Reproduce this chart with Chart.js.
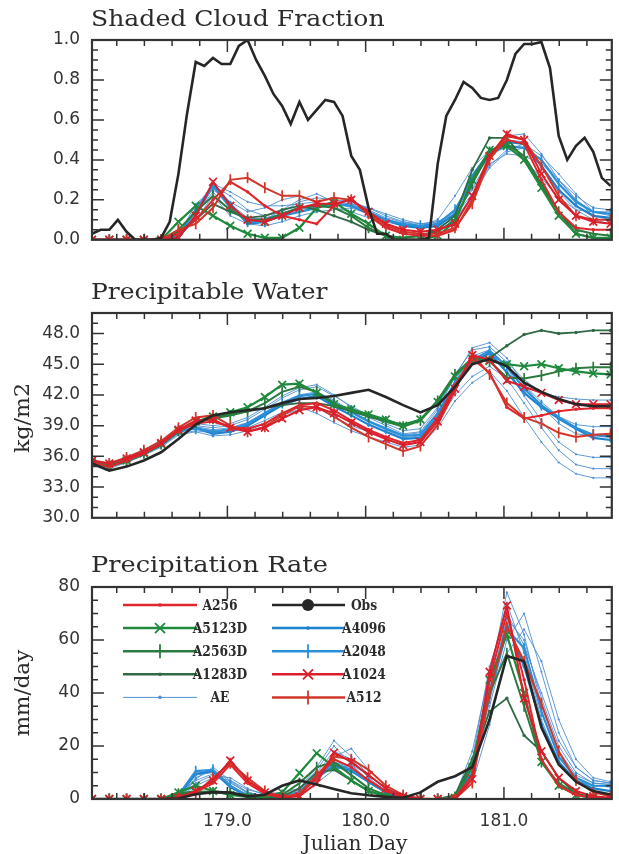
<!DOCTYPE html>
<html>
<head>
<meta charset="utf-8">
<script src="https://cdn.jsdelivr.net/npm/chart.js@4.4.1/dist/chart.umd.min.js"></script>
<style>
  body { margin: 0; background: #fff; }
  #page { position: relative; width: 619px; height: 854px; overflow: hidden; background: #fff; }
  canvas { position: absolute; left: 0; }
  .t, .v, .c { position: absolute; font-family: "DejaVu Serif", serif; color: #2b2b2b; white-space: nowrap; line-height: 1; }
  .t { font-size: 21px; transform-origin: 0 0; }
  .v, .c { font-size: 19px; }
</style>
</head>
<body>
<div id="page">
  <canvas id="c1" width="619" height="262" style="top:0px"></canvas>
  <canvas id="c2" width="619" height="270" style="top:270px"></canvas>
  <canvas id="c3" width="619" height="314" style="top:540px"></canvas>
  <div class="t" style="left:91px;top:7px" data-w="294">Shaded Cloud Fraction</div>
  <div class="t" style="left:91px;top:280px" data-w="237">Precipitable Water</div>
  <div class="t" style="left:91px;top:553px" data-w="237">Precipitation Rate</div>
  <div class="v" style="left:22px;top:418px" data-w="70">kg/m2</div>
  <div class="v" style="left:22px;top:693px" data-w="87">mm/day</div>
  <div class="c" style="left:355px;top:843px" data-w="105">Julian Day</div>
</div>
<script>
// model output every 3 hours
const days = [178.021, 178.146, 178.271, 178.396, 178.521, 178.646, 178.771, 178.896,
  179.021, 179.146, 179.271, 179.396, 179.521, 179.646, 179.771, 179.896,
  180.021, 180.146, 180.271, 180.396, 180.521, 180.646, 180.771, 180.896,
  181.021, 181.146, 181.271, 181.396, 181.521, 181.646, 181.771];

// observed cloud fraction, every 1.5 hours
const obsCloudDays = [178.021, 178.083, 178.146, 178.208, 178.271, 178.333, 178.396, 178.458,
  178.521, 178.583, 178.646, 178.708, 178.771, 178.833, 178.896, 178.958, 179.021, 179.083,
  179.146, 179.208, 179.271, 179.333, 179.396, 179.458, 179.521, 179.583, 179.646, 179.708,
  179.771, 179.833, 179.896, 179.958, 180.021, 180.083, 180.146, 180.208, 180.271, 180.333,
  180.396, 180.458, 180.521, 180.583, 180.646, 180.708, 180.771, 180.833, 180.896, 180.958,
  181.021, 181.083, 181.146, 181.208, 181.271, 181.333, 181.396, 181.458, 181.521, 181.583,
  181.646, 181.708, 181.771];
const obsCloud = [0.03, 0.05, 0.05, 0.10, 0.04, 0.0, 0.0, 0.0, 0.01, 0.09,
  0.33, 0.63, 0.89, 0.87, 0.91, 0.88, 0.88, 0.97, 1.0, 0.90,
  0.82, 0.73, 0.67, 0.58, 0.69, 0.60, 0.65, 0.70, 0.69, 0.62,
  0.42, 0.35, 0.16, 0.03, 0.03, 0.0, 0.0, 0.0, 0.0, 0.01,
  0.38, 0.62, 0.70, 0.79, 0.76, 0.71, 0.70, 0.71, 0.80, 0.93,
  0.98, 0.98, 0.99, 0.86, 0.52, 0.40, 0.47, 0.51, 0.44, 0.31, 0.27];

const cloudA256 = [0, 0, 0, 0, 0, 0.03, 0.10, 0.20, 0.29, 0.24, 0.17, 0.12, 0.10, 0.08, 0.17, 0.21, 0.12, 0.06, 0.03, 0.02, 0.02, 0.05, 0.20, 0.41, 0.50, 0.48, 0.30, 0.14, 0.06, 0.05, 0.05];
const cloudA512 = [0, 0, 0, 0, 0, 0.05, 0.08, 0.16, 0.30, 0.31, 0.26, 0.22, 0.22, 0.19, 0.21, 0.20, 0.13, 0.07, 0.04, 0.03, 0.03, 0.06, 0.18, 0.40, 0.52, 0.50, 0.37, 0.22, 0.12, 0.10, 0.10];
const cloudA1024 = [0, 0, 0, 0, 0, 0.01, 0.12, 0.29, 0.17, 0.10, 0.09, 0.12, 0.16, 0.18, 0.18, 0.20, 0.14, 0.08, 0.05, 0.04, 0.05, 0.08, 0.22, 0.42, 0.53, 0.50, 0.33, 0.20, 0.12, 0.09, 0.08];
const cloudA2048 = [0, 0, 0, 0, 0, 0.02, 0.15, 0.27, 0.16, 0.09, 0.09, 0.12, 0.14, 0.16, 0.18, 0.17, 0.14, 0.10, 0.08, 0.07, 0.08, 0.15, 0.30, 0.43, 0.47, 0.46, 0.40, 0.28, 0.19, 0.14, 0.13];
const cloudA4096 = [0, 0, 0, 0, 0, 0.01, 0.12, 0.28, 0.18, 0.08, 0.09, 0.13, 0.16, 0.17, 0.18, 0.17, 0.13, 0.10, 0.07, 0.06, 0.07, 0.13, 0.32, 0.44, 0.49, 0.48, 0.37, 0.25, 0.17, 0.12, 0.11];
const cloudA5123D = [0, 0, 0, 0, 0, 0.09, 0.17, 0.12, 0.07, 0.03, 0.01, 0.01, 0.06, 0.16, 0.19, 0.13, 0.08, 0.02, 0.0, 0.0, 0.02, 0.09, 0.30, 0.45, 0.47, 0.40, 0.26, 0.12, 0.03, 0.01, 0.01];
const cloudA2563D = [0, 0, 0, 0, 0, 0.05, 0.14, 0.22, 0.15, 0.10, 0.10, 0.13, 0.16, 0.17, 0.16, 0.12, 0.06, 0.02, 0.01, 0.02, 0.04, 0.10, 0.28, 0.44, 0.48, 0.42, 0.28, 0.14, 0.05, 0.03, 0.02];
const cloudA1283D = [0, 0, 0, 0, 0, 0.04, 0.10, 0.18, 0.14, 0.11, 0.12, 0.15, 0.17, 0.15, 0.12, 0.09, 0.05, 0.02, 0.01, 0.02, 0.05, 0.12, 0.35, 0.51, 0.51, 0.40, 0.27, 0.14, 0.03, 0.01, 0.01];
const cloudAE = [
  [0, 0, 0, 0, 0, 0.01, 0.14, 0.27, 0.22, 0.15, 0.12, 0.14, 0.19, 0.21, 0.20, 0.19, 0.16, 0.13, 0.10, 0.08, 0.09, 0.14, 0.29, 0.42, 0.52, 0.53, 0.43, 0.30, 0.20, 0.14, 0.13],
  [0, 0, 0, 0, 0, 0.02, 0.18, 0.25, 0.19, 0.14, 0.16, 0.20, 0.22, 0.19, 0.16, 0.14, 0.11, 0.09, 0.07, 0.07, 0.10, 0.22, 0.36, 0.45, 0.48, 0.40, 0.31, 0.21, 0.15, 0.14, 0.14],
  [0, 0, 0, 0, 0, 0.01, 0.10, 0.22, 0.12, 0.08, 0.07, 0.09, 0.12, 0.14, 0.15, 0.16, 0.13, 0.10, 0.08, 0.06, 0.07, 0.10, 0.22, 0.36, 0.44, 0.46, 0.40, 0.30, 0.20, 0.12, 0.10],
  [0, 0, 0, 0, 0, 0.02, 0.16, 0.28, 0.24, 0.19, 0.17, 0.17, 0.18, 0.19, 0.21, 0.20, 0.15, 0.11, 0.09, 0.08, 0.09, 0.13, 0.25, 0.38, 0.43, 0.42, 0.38, 0.30, 0.22, 0.16, 0.15],
  [0, 0, 0, 0, 0, 0.01, 0.12, 0.26, 0.18, 0.11, 0.10, 0.15, 0.20, 0.23, 0.19, 0.18, 0.16, 0.12, 0.09, 0.07, 0.08, 0.12, 0.26, 0.40, 0.50, 0.49, 0.36, 0.24, 0.15, 0.10, 0.08],
  [0, 0, 0, 0, 0, 0.01, 0.13, 0.24, 0.14, 0.10, 0.11, 0.13, 0.15, 0.17, 0.19, 0.18, 0.14, 0.10, 0.08, 0.06, 0.08, 0.12, 0.23, 0.37, 0.45, 0.48, 0.42, 0.33, 0.23, 0.14, 0.12]
];

const obsWater = [35.3, 34.6, 35.0, 35.6, 36.4, 37.7, 39.1, 40.0, 40.3, 40.5, 40.7, 41.2, 41.6, 41.7, 41.9, 42.2, 42.5, 41.8, 41.0, 40.3, 41.0, 42.8, 45.0, 45.5, 44.8, 43.2, 42.3, 41.6, 41.1, 40.9, 40.9];
const waterA256 = [35.4, 35.0, 35.6, 36.3, 37.2, 38.5, 39.2, 39.4, 38.9, 38.7, 39.2, 40.2, 41.0, 41.2, 40.5, 39.5, 38.6, 37.9, 37.3, 37.6, 39.7, 43.0, 45.5, 44.2, 40.8, 39.7, 40.0, 40.4, 40.6, 40.7, 40.7];
const waterA512 = [35.6, 35.3, 35.9, 36.6, 37.5, 38.8, 39.8, 40.0, 39.0, 38.4, 38.9, 40.0, 40.9, 40.8, 39.9, 38.8, 37.9, 37.2, 36.5, 37.0, 39.1, 42.4, 46.0, 44.0, 41.2, 39.8, 39.2, 38.3, 37.9, 38.1, 38.2];
const waterA1024 = [35.6, 35.3, 35.8, 36.4, 37.3, 38.6, 39.5, 39.6, 38.8, 38.4, 38.8, 39.7, 40.5, 40.8, 40.2, 39.3, 38.4, 37.7, 37.1, 37.4, 39.4, 42.6, 45.9, 45.4, 43.4, 42.8, 42.2, 41.5, 41.1, 41.1, 41.1];
const waterA2048 = [35.4, 35.1, 35.7, 36.4, 37.3, 38.5, 38.7, 38.4, 38.6, 39.2, 40.2, 41.2, 41.9, 42.1, 41.2, 40.3, 39.4, 38.7, 38.0, 38.1, 40.2, 43.2, 45.4, 46.3, 44.8, 42.6, 41.0, 39.8, 38.8, 38.1, 37.9];
const waterA4096 = [35.3, 35.0, 35.6, 36.3, 37.1, 38.4, 38.8, 38.2, 38.4, 39.0, 40.0, 41.0, 41.6, 41.9, 40.9, 40.0, 39.1, 38.4, 37.7, 37.8, 39.8, 42.8, 45.1, 46.1, 44.2, 42.2, 40.8, 39.7, 38.7, 37.8, 37.6];
const waterA5123D = [35.4, 35.0, 35.6, 36.3, 37.2, 38.5, 39.4, 39.9, 40.3, 40.8, 41.8, 43.0, 43.1, 42.2, 41.1, 40.6, 40.1, 39.6, 39.0, 39.6, 41.3, 43.8, 45.5, 45.3, 45.0, 44.8, 45.0, 44.6, 44.3, 44.1, 44.0];
const waterA2563D = [35.4, 35.1, 35.6, 36.3, 37.2, 38.5, 39.3, 39.7, 40.0, 40.4, 41.2, 42.3, 42.8, 42.3, 41.2, 40.4, 39.9, 39.4, 38.9, 39.5, 41.4, 44.0, 45.6, 45.3, 43.7, 43.6, 43.9, 44.3, 44.6, 44.7, 44.7];
const waterA1283D = [35.3, 35.0, 35.5, 36.2, 37.1, 38.4, 39.3, 39.8, 40.1, 40.4, 40.7, 41.0, 41.2, 41.2, 40.9, 40.4, 40.0, 39.5, 39.1, 39.6, 41.5, 44.0, 45.5, 45.6, 46.8, 47.9, 48.3, 48.0, 48.1, 48.3, 48.3];
const waterAE = [
  [35.5, 35.2, 35.8, 36.5, 37.4, 38.6, 39.0, 38.8, 39.0, 39.6, 40.6, 41.7, 42.5, 42.8, 41.9, 40.9, 40.0, 39.2, 38.5, 38.7, 40.8, 44.0, 46.4, 46.7, 45.2, 43.5, 42.2, 41.8, 41.6, 41.5, 41.5],
  [35.2, 34.8, 35.4, 36.1, 36.9, 38.1, 38.4, 38.0, 38.1, 38.5, 39.2, 40.0, 40.6, 40.8, 39.8, 39.0, 38.4, 37.9, 37.3, 37.6, 39.4, 42.0, 43.8, 44.8, 43.6, 41.2, 38.8, 36.6, 35.2, 34.8, 34.8],
  [35.6, 35.3, 35.9, 36.6, 37.5, 38.7, 39.2, 39.0, 39.2, 39.8, 40.8, 41.9, 42.7, 43.0, 42.0, 40.8, 39.8, 39.0, 38.2, 38.4, 40.6, 43.8, 46.6, 47.1, 45.6, 43.0, 40.9, 39.2, 38.2, 38.0, 38.0],
  [35.3, 35.0, 35.5, 36.2, 37.0, 38.2, 38.5, 38.3, 38.4, 38.8, 39.5, 40.3, 40.8, 40.2, 39.3, 38.5, 37.9, 37.4, 36.9, 37.1, 38.8, 41.4, 43.2, 44.3, 42.4, 39.8, 37.4, 35.4, 34.3, 33.9, 33.9],
  [35.4, 35.1, 35.7, 36.4, 37.2, 38.4, 38.9, 38.6, 38.8, 39.3, 40.3, 41.3, 42.0, 42.3, 41.5, 40.4, 39.5, 38.8, 38.1, 38.3, 40.3, 43.4, 45.8, 46.4, 44.7, 41.9, 39.5, 37.4, 36.2, 35.9, 35.9],
  [35.5, 35.2, 35.7, 36.4, 37.2, 38.3, 38.8, 38.5, 38.7, 39.2, 40.1, 41.0, 41.8, 42.2, 41.4, 40.3, 39.4, 38.6, 37.8, 38.0, 40.0, 43.0, 45.4, 46.0, 44.9, 43.0, 41.3, 39.9, 39.1, 38.9, 38.9]
];

const obsRain = [0, 0, 0, 0, 0, 0.2, 1.8, 2.6, 2.4, 1.0, 1.6, 5.0, 7.0, 5.5, 3.8, 2.2, 1.4, 0.8, 0.5, 2.5, 6.5, 8.6, 12, 30, 54, 52, 27, 13, 6.5, 3, 1.7];
const rainA256 = [0, 0, 0, 0, 0, 0.4, 2.5, 6, 13, 6, 2, 0.5, 1.5, 8, 15, 12, 7, 3, 0.5, 0, 0, 0.3, 9, 45, 70, 45, 15, 5, 1.5, 0.5, 0.2];
const rainA512 = [0, 0, 0, 0, 0, 0.3, 2, 8, 13.5, 8, 3, 0.8, 2, 9, 16, 15, 11, 5, 1.5, 0.2, 0, 0, 6, 40, 65, 52, 36, 18, 7, 2.5, 1];
const rainA1024 = [0, 0, 0, 0, 0, 0.5, 3, 7, 14.5, 7, 2.5, 0.5, 1, 6, 17.5, 14, 9, 4, 1, 0, 0, 0, 7.5, 48, 73, 38, 18, 8, 3, 1, 0.5];
const rainA2048 = [0, 0, 0, 0, 0, 1.5, 10.5, 11, 5, 1.2, 0.4, 0.3, 2.5, 9, 13.5, 11, 7, 3, 0.8, 0, 0, 0.6, 12, 38, 64, 57, 33, 16, 8, 5, 5];
const rainA4096 = [0, 0, 0, 0, 0, 1.2, 9.5, 10.5, 4.5, 1.0, 0.5, 0.5, 2.0, 8.0, 12.5, 10.5, 6.5, 2.5, 0.5, 0, 0, 0.5, 10, 40, 66, 50, 28, 14, 7, 4, 3];
const rainA5123D = [0, 0, 0, 0, 0, 2.5, 5, 3, 1.5, 0.8, 0.5, 2.5, 9.8, 17.3, 12, 7, 3, 1, 0.3, 0, 0, 0.5, 12, 45, 62, 40, 14, 5, 1.5, 0.3, 0];
const rainA2563D = [0, 0, 0, 0, 0, 2, 3, 2.5, 2, 1.5, 1, 1.5, 6, 12, 14, 9, 4, 1.5, 0.3, 0, 0, 0.8, 14, 40, 55, 35, 14, 6, 2, 0.5, 0.2];
const rainA1283D = [0, 0, 0, 0, 0, 1.5, 2.5, 3, 2.5, 1.5, 0.5, 1, 4, 10, 11, 7, 3, 1, 0.2, 0, 0, 1.5, 15, 33, 38, 24, 18, 8, 2, 0.5, 0.2];
const rainAE = [
  [0, 0, 0, 0, 0, 0.8, 7, 9.5, 6, 2.5, 1.2, 1, 3, 10, 18, 15, 8, 3, 0.6, 0, 0, 1, 14, 45, 78, 62, 35, 18, 9, 6, 5.5],
  [0, 0, 0, 0, 0, 0.5, 5, 8, 7, 3.5, 2, 2.5, 4, 12, 22, 16, 9, 4, 1, 0, 0, 0.8, 15, 50, 70, 58, 40, 22, 12, 7, 6],
  [0, 0, 0, 0, 0, 1, 8, 11, 6.5, 2, 0.8, 0.5, 1.5, 6, 11, 13, 9, 4, 1.2, 0.2, 0, 0.3, 8, 35, 60, 70, 48, 25, 12, 7, 6],
  [0, 0, 0, 0, 0, 0.6, 6, 9, 8, 4, 1.5, 1.2, 2.5, 8, 16, 19, 11, 5, 1.5, 0.3, 0, 0.5, 6, 28, 55, 64, 52, 30, 15, 8, 6.5],
  [0, 0, 0, 0, 0, 1.3, 9, 10, 5, 1.5, 0.6, 0.8, 3.5, 11, 20, 13, 7, 2, 0.4, 0, 0, 1.2, 18, 48, 74, 55, 30, 14, 7, 5, 4.5],
  [0, 0, 0, 0, 0, 0.7, 7.5, 12, 7, 2.5, 1, 0.6, 2, 7, 14, 12, 6, 2.5, 0.5, 0, 0, 0.6, 10, 42, 68, 60, 38, 20, 10, 6, 5.5]
];

const xTicks = [179, 180, 181];
const cloudTicks = [0, 0.2, 0.4, 0.6, 0.8, 1.0];
const waterTicks = [30, 33, 36, 39, 42, 45, 48];
const rainTicks = [0, 20, 40, 60, 80];

// legend layout: [left column, right column]
const legendRows = [['A256', 'Obs'], ['A5123D', 'A4096'], ['A2563D', 'A2048'], ['A1283D', 'A1024'], ['AE', 'A512']];

const styles = {
  Obs:    { color: '#262626', width: 2.6, marker: 'none' },
  A256:   { color: '#e0262d', width: 2, marker: 'dot' },
  A512:   { color: '#d0372a', width: 2, marker: 'bar' },
  A1024:  { color: '#da1f2b', width: 2, marker: 'x' },
  A2048:  { color: '#2a90d8', width: 2.2, marker: 'bar' },
  A4096:  { color: '#1c82cd', width: 2.2, marker: 'dot' },
  A5123D: { color: '#1e8a3c', width: 2.2, marker: 'x' },
  A2563D: { color: '#2b7a40', width: 2, marker: 'bar' },
  A1283D: { color: '#2f6a45', width: 1.8, marker: 'dot' },
  AE:     { color: '#4f8fd0', width: 0.9, marker: 'dot' }
};

function ds(name, xs, ys) {
  const s = styles[name];
  return {
    label: name,
    data: xs.map((x, i) => ({ x: x, y: ys[i] })),
    borderColor: s.color,
    backgroundColor: s.color,
    borderWidth: s.width,
    pointStyle: { dot: 'circle', x: 'crossRot', bar: 'line', none: 'circle' }[s.marker],
    pointRotation: s.marker === 'bar' ? 90 : 0,
    pointRadius: { dot: s.width < 1.5 ? 1.1 : 1.7, x: 5.5, bar: 5.5, none: 0 }[s.marker],
    pointBorderWidth: s.marker === 'dot' ? 0 : 1.7,
    pointBorderColor: s.color,
    pointBackgroundColor: s.color,
    tension: 0,
    fill: false
  };
}

function sets(obsDays, obs, m, ae) {
  return [
    ds('Obs', obsDays, obs),
    ds('A1024', days, m[0]), ds('A512', days, m[1]), ds('A256', days, m[2]),
    ds('A5123D', days, m[3]), ds('A2563D', days, m[4]), ds('A1283D', days, m[5]),
    ds('A2048', days, m[6]), ds('A4096', days, m[7])
  ].concat(ae.map(v => ds('AE', days, v)));
}

// frame with inward tick marks on all four sides
const frame = {
  id: 'frame',
  afterDraw(chart, args, o) {
    const { ctx, chartArea: a, scales: { x, y } } = chart;
    ctx.save();
    ctx.strokeStyle = '#333';
    ctx.lineWidth = 1.5;
    ctx.beginPath();
    for (let i = 1; i <= 19; i++) {
      const v = 178 + i * 0.2;
      if (v > x.max) break;
      const px = x.getPixelForValue(v);
      const len = (i % 5 === 0) ? 12 : 6;
      ctx.moveTo(px, a.bottom); ctx.lineTo(px, a.bottom - len);
      ctx.moveTo(px, a.top); ctx.lineTo(px, a.top + len);
    }
    const n = Math.round((y.max - y.min) / o.minor);
    for (let i = 1; i < n; i++) {
      const v = y.min + i * o.minor;
      const py = y.getPixelForValue(v);
      const r = (v - y.min) / o.major;
      const len = Math.abs(r - Math.round(r)) < 1e-6 ? 12 : 6;
      ctx.moveTo(a.left, py); ctx.lineTo(a.left + len, py);
      ctx.moveTo(a.right, py); ctx.lineTo(a.right - len, py);
    }
    ctx.stroke();
    ctx.lineWidth = 2.2;
    ctx.strokeRect(a.left, a.top, a.right - a.left, a.bottom - a.top);
    ctx.restore();
  }
};

const keyBox = {
  id: 'keyBox',
  afterDraw(chart, args, o) {
    if (!o.show) return;
    const { ctx, chartArea: a } = chart;
    const cols = [{ x0: 123, x1: 197, m: 160, t: 220 }, { x0: 272, x1: 345, m: 308, t: 364 }];
    ctx.save();
    legendRows.forEach((row, r) => {
      const yy = a.top + 18 + r * 23.1;
      row.forEach((name, c) => {
        const s = styles[name], col = cols[c];
        ctx.strokeStyle = s.color; ctx.fillStyle = s.color;
        ctx.lineWidth = name === 'AE' ? 1 : 2.5;
        ctx.beginPath(); ctx.moveTo(col.x0, yy); ctx.lineTo(col.x1, yy); ctx.stroke();
        ctx.lineWidth = 1.8;
        ctx.beginPath();
        if (s.marker === 'x') {
          ctx.moveTo(col.m - 5, yy - 5); ctx.lineTo(col.m + 5, yy + 5);
          ctx.moveTo(col.m - 5, yy + 5); ctx.lineTo(col.m + 5, yy - 5); ctx.stroke();
        } else if (s.marker === 'bar') {
          ctx.moveTo(col.m, yy - 7); ctx.lineTo(col.m, yy + 7); ctx.stroke();
        } else if (s.marker === 'dot') {
          ctx.arc(col.m, yy, 1.8, 0, Math.PI * 2); ctx.fill();
        } else {
          ctx.arc(col.m, yy, 6, 0, Math.PI * 2); ctx.fill();
        }
        // bold label, squeezed a little to the original's narrow lettering
        ctx.fillStyle = '#2b2b2b';
        ctx.font = 'bold 15px "DejaVu Serif"';
        ctx.textAlign = 'center';
        ctx.textBaseline = 'middle';
        ctx.save();
        ctx.translate(col.t, yy + 1);
        ctx.scale(0.82, 1);
        ctx.fillText(name, 0, 0);
        ctx.restore();
      });
    });
    ctx.restore();
  }
};

function panel(id, datasets, yMin, yMax, yTicks, fmt, minor, major, padTop, xHeight, showX, key) {
  return new Chart(document.getElementById(id), {
    type: 'line',
    data: { datasets: datasets },
    options: {
      responsive: false,
      animation: false,
      layout: { padding: { top: padTop, right: 1, left: 0, bottom: 0 } },
      plugins: {
        legend: { display: false },
        tooltip: { enabled: false },
        frame: { minor: minor, major: major },
        keyBox: { show: key }
      },
      scales: {
        x: {
          type: 'linear', min: 178.021, max: 181.78,
          grid: { display: false, drawTicks: false },
          border: { display: false },
          afterBuildTicks: s => { s.ticks = xTicks.map(v => ({ value: v })); },
          afterFit: s => { s.height = xHeight; },
          ticks: {
            display: showX, padding: 12, color: '#333', autoSkip: false, maxRotation: 0,
            font: { family: 'DejaVu Sans', size: 17 },
            callback: v => v.toFixed(1)
          }
        },
        y: {
          min: yMin, max: yMax,
          grid: { display: false, drawTicks: false },
          border: { display: false },
          afterBuildTicks: s => { s.ticks = yTicks.map(v => ({ value: v })); },
          afterFit: s => { s.width = 92; },
          ticks: {
            padding: 12, color: '#333',
            font: { family: 'DejaVu Sans', size: 17 },
            callback: fmt
          }
        }
      }
    },
    plugins: [frame, keyBox]
  });
}

panel('c1', sets(obsCloudDays, obsCloud,
  [cloudA1024, cloudA512, cloudA256, cloudA5123D, cloudA2563D, cloudA1283D, cloudA2048, cloudA4096], cloudAE),
  0, 1, cloudTicks, v => v.toFixed(1), 0.05, 0.2, 40, 13, false, false);

panel('c2', sets(days, obsWater,
  [waterA1024, waterA512, waterA256, waterA5123D, waterA2563D, waterA1283D, waterA2048, waterA4096], waterAE),
  30, 50, waterTicks, v => v.toFixed(1), 1, 3, 43, 16, false, false);

panel('c3', sets(days, obsRain,
  [rainA1024, rainA512, rainA256, rainA5123D, rainA2563D, rainA1283D, rainA2048, rainA4096], rainAE),
  0, 80, rainTicks, v => String(v), 5, 20, 47, 55, true, true);

// stretch the html labels to the measured widths of the original
document.querySelectorAll('.t').forEach(el => {
  const k = el.dataset.w / el.offsetWidth;
  el.style.transform = 'scale(' + k + ',1.09)';
});
document.querySelectorAll('.v').forEach(el => {
  const k = el.dataset.w / el.offsetWidth;
  el.style.transform = 'translate(-50%,-50%) rotate(-90deg) scale(' + k + ',1.05)';
});
document.querySelectorAll('.c').forEach(el => {
  const k = el.dataset.w / el.offsetWidth;
  el.style.transform = 'translate(-50%,-50%) scale(' + k + ',1.05)';
});
</script>
</body>
</html>
